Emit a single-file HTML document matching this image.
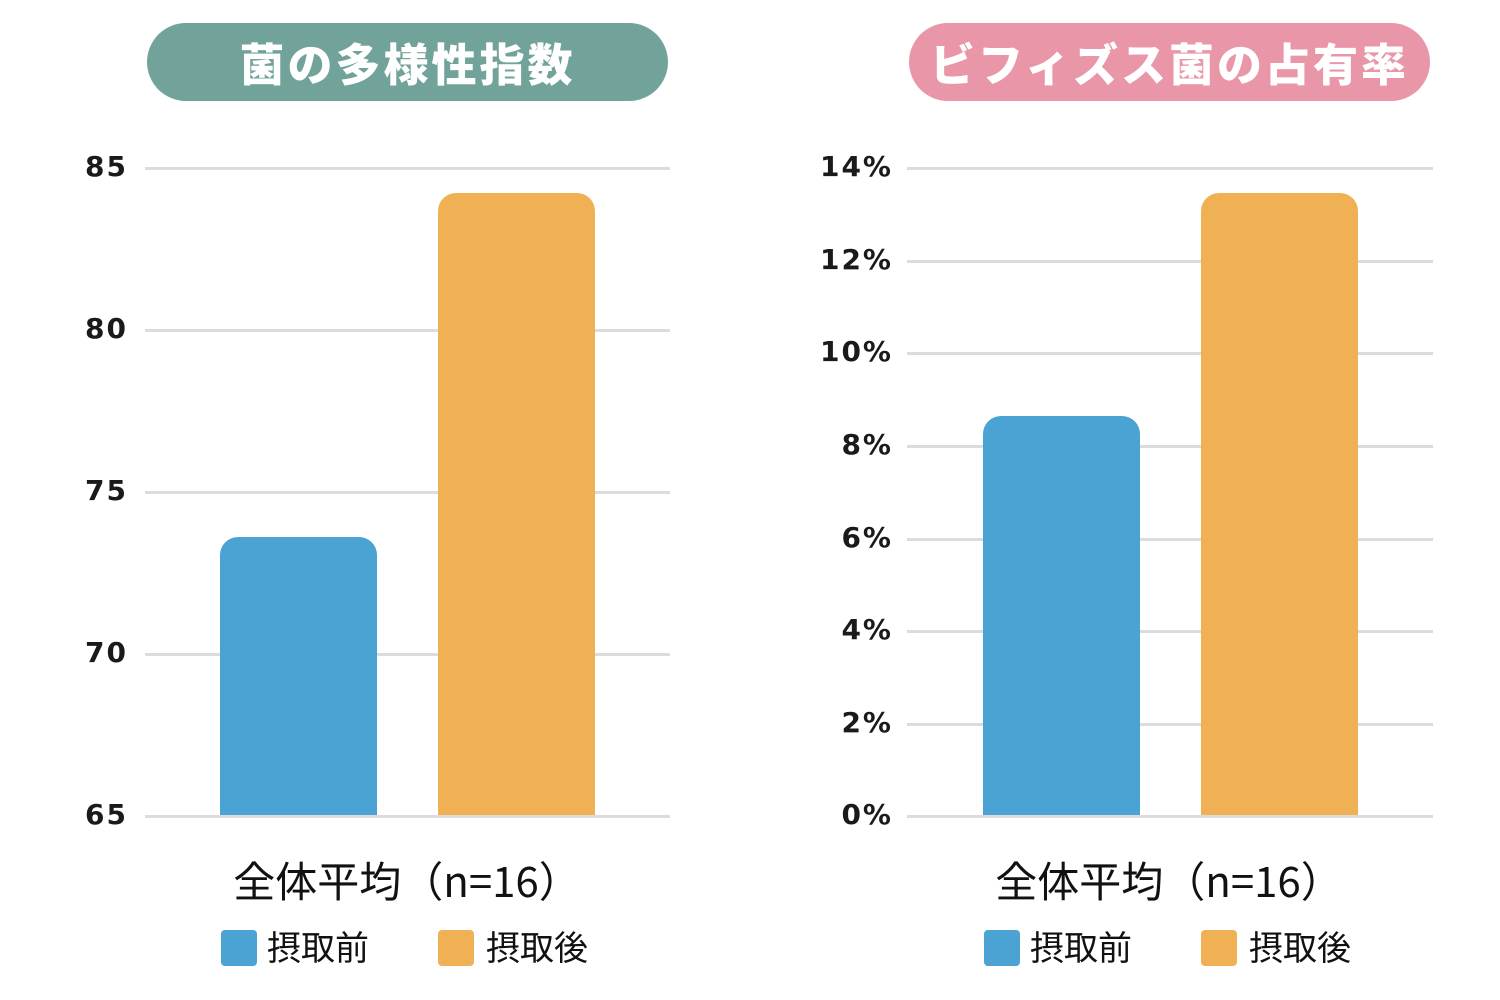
<!DOCTYPE html>
<html><head><meta charset="utf-8"><style>
body{margin:0;width:1500px;height:1000px;background:#fff;position:relative;overflow:hidden;font-family:"Liberation Sans","Noto Sans CJK JP",sans-serif}
.pill{position:absolute;top:23px;height:78px;width:521px;border-radius:39px;color:#fff;font-weight:900;font-size:45px;line-height:78px;text-align:center;letter-spacing:3px;font-family:"Noto Sans CJK JP",sans-serif}
.g{position:absolute;height:3px;background:#dcdcdc}
.t{position:absolute;width:122px;text-align:right;font-family:"DejaVu Sans",sans-serif;font-weight:bold;font-size:28px;line-height:30px;color:#1a1a1a;letter-spacing:2px}
.bar{position:absolute;border-radius:18px 18px 0 0}
.cat{position:absolute;font-family:"Noto Sans CJK JP",sans-serif;font-size:42px;color:#111;text-align:center;width:520px;line-height:50px}
.lg{position:absolute;width:36px;height:36px;border-radius:4px;top:930px}
.lt{position:absolute;top:924px;font-family:"Noto Sans CJK JP",sans-serif;font-size:34px;line-height:44px;color:#111}
</style></head><body>
<div class="pill" style="left:147px;background:#72a39a">菌の多様性指数</div>
<div class="pill" style="left:909px;background:#e896a8">ビフィズス菌の占有率</div>

<div class="g" style="left:145px;width:525px;top:167px"></div>
<div class="g" style="left:145px;width:525px;top:329px"></div>
<div class="g" style="left:145px;width:525px;top:491px"></div>
<div class="g" style="left:145px;width:525px;top:653px"></div>
<div class="g" style="left:145px;width:525px;top:815px"></div>
<div class="t" style="left:6px;top:152px">85</div>
<div class="t" style="left:6px;top:314px">80</div>
<div class="t" style="left:6px;top:476px">75</div>
<div class="t" style="left:6px;top:638px">70</div>
<div class="t" style="left:6px;top:800px">65</div>
<div class="bar" style="left:220px;width:157px;top:537px;height:278px;background:#4ba3d4"></div>
<div class="bar" style="left:438px;width:157px;top:193px;height:622px;background:#f0b155"></div>

<div class="g" style="left:907px;width:526px;top:167px"></div>
<div class="g" style="left:907px;width:526px;top:260px"></div>
<div class="g" style="left:907px;width:526px;top:352px"></div>
<div class="g" style="left:907px;width:526px;top:445px"></div>
<div class="g" style="left:907px;width:526px;top:538px"></div>
<div class="g" style="left:907px;width:526px;top:630px"></div>
<div class="g" style="left:907px;width:526px;top:723px"></div>
<div class="g" style="left:907px;width:526px;top:815px"></div>
<div class="t" style="left:771px;top:152px">14%</div>
<div class="t" style="left:771px;top:245px">12%</div>
<div class="t" style="left:771px;top:337px">10%</div>
<div class="t" style="left:771px;top:430px">8%</div>
<div class="t" style="left:771px;top:523px">6%</div>
<div class="t" style="left:771px;top:615px">4%</div>
<div class="t" style="left:771px;top:708px">2%</div>
<div class="t" style="left:771px;top:800px">0%</div>
<div class="bar" style="left:983px;width:157px;top:416px;height:399px;background:#4ba3d4"></div>
<div class="bar" style="left:1201px;width:157px;top:193px;height:622px;background:#f0b155"></div>

<div class="cat" style="left:147px;top:855px">全体平均（n=16）</div>
<div class="cat" style="left:909px;top:855px">全体平均（n=16）</div>

<div class="lg" style="left:221px;background:#4ba3d4"></div>
<div class="lt" style="left:267px">摂取前</div>
<div class="lg" style="left:438px;background:#f0b155"></div>
<div class="lt" style="left:486px">摂取後</div>
<div class="lg" style="left:984px;background:#4ba3d4"></div>
<div class="lt" style="left:1030px">摂取前</div>
<div class="lg" style="left:1201px;background:#f0b155"></div>
<div class="lt" style="left:1249px">摂取後</div>
</body></html>
